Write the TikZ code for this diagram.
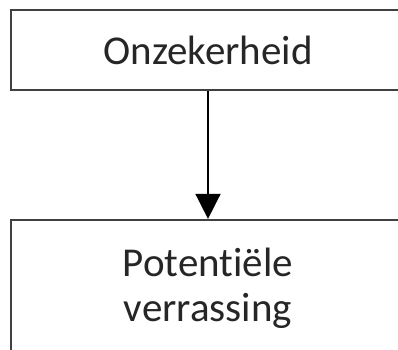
\documentclass[tikz,border=0pt]{standalone}
\usepackage{fontspec}
\setmainfont{Carlito}[Ligatures=NoCommon]
\usetikzlibrary{arrows.meta}
\definecolor{boxline}{HTML}{404040}
\tikzset{
  box/.style={draw=boxline, line width=2.2pt, fill=white, inner sep=0pt,
    minimum width=394pt, font=\fontsize{41}{45}\selectfont, align=center, text=black!85},
  conn/.style={line width=1.5pt, -{Triangle[width=25pt,length=25pt]}}
}
\begin{document}
\begin{tikzpicture}[x=1pt,y=-1pt]
\useasboundingbox (0,0) rectangle (398,349);
\clip (0,0) rectangle (398,349);
\node[box, minimum height=80pt] (top) at (208,50) {Onzekerheid};
\node[box, minimum height=136pt] (bot) at (208,288) {Potentiële\\verrassing};
\draw[conn] (top.south) -- (bot.north);
\end{tikzpicture}
\end{document}
